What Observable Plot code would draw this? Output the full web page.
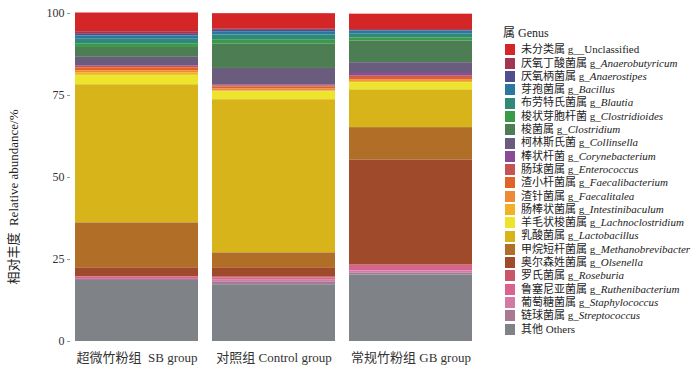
<!DOCTYPE html>
<html>
<head>
<meta charset="utf-8">
<script src="https://cdn.jsdelivr.net/npm/d3@7"></script>
<script src="https://cdn.jsdelivr.net/npm/@observablehq/plot@0.6"></script>
<style>
  body { margin: 0; background: #fff; font-family: "Liberation Serif", "Noto Sans CJK SC", serif; }
  #wrap { position: relative; width: 700px; height: 369px; overflow: hidden; }
  #chart { position: absolute; left: 0; top: 0; }
  #ylab { position: absolute; left: 12px; top: 197px; transform: translate(-50%, -50%) rotate(-90deg); white-space: pre; font-size: 13px; color: #222; }
  #legend { position: absolute; left: 503px; top: 27px; font-size: 11px; color: #222; line-height: 13.3px; }
  #legend .title { margin-bottom: 3px; font-size: 12px; }
  #legend .item { display: flex; align-items: center; height: 13.3px; white-space: nowrap; }
  #legend .sw { width: 10px; height: 11px; margin: 0 6px 0 2px; flex: none; }
  #legend i { font-style: italic; }
</style>
</head>
<body>
<div id="wrap">
  <div id="chart"></div>
  <div id="ylab"></div>
  <div id="legend"></div>
</div>
<script>
// Groups (x categories)
const groups = ["超微竹粉组  SB group", "对照组 Control group", "常规竹粉组 GB group"];

// Genera in legend order (top of legend = top of stack)
const generaCN = ["未分类属", "厌氧丁酸菌属", "厌氧柄菌属", "芽孢菌属", "布劳特氏菌属", "梭状芽胞杆菌", "梭菌属", "柯林斯氏菌", "棒状杆菌", "肠球菌属", "渣小杆菌属", "渣针菌属", "肠棒状菌属", "羊毛状梭菌属", "乳酸菌属", "甲烷短杆菌属", "奥尔森姓菌属", "罗氏菌属", "鲁塞尼亚菌属", "葡萄糖菌属", "链球菌属", "其他"];
const generaEN = ["_Unclassified", "Anaerobutyricum", "Anaerostipes", "Bacillus", "Blautia", "Clostridioides", "Clostridium", "Collinsella", "Corynebacterium", "Enterococcus", "Faecalibacterium", "Faecalitalea", "Intestinibaculum", "Lachnoclostridium", "Lactobacillus", "Methanobrevibacter", "Olsenella", "Roseburia", "Ruthenibacterium", "Staphylococcus", "Streptococcus", "Others"];

const colors = ["#d42627", "#a23550", "#4f4f8e", "#2a77a0", "#2e8a76", "#3a9a48", "#4d7e53", "#6a5c7c", "#8b4a95", "#c75253", "#e0622a", "#ec8a36", "#f0b126", "#ede52c", "#d8b41b", "#b06e27", "#9e4a2b", "#c95669", "#d8638e", "#d27aa8", "#a87990", "#7f8388"];

// Relative abundance (%) per group, in legend order
const valuesSB      = [5.7, 0.8, 0.5, 1.0, 1.5, 1.0, 3.0, 2.6, 0.2, 0.4, 0.9, 0.6, 0.8, 2.9, 42.1, 13.7, 2.65, 0.2, 0.4, 0.3, 0.3, 18.6];
const valuesControl = [4.6, 0.5, 0.4, 1.0, 1.6, 1.2, 7.4, 5.1, 0.2, 0.4, 0.6, 0.5, 0.4, 2.35, 46.7, 4.7, 2.7, 0.2, 0.7, 0.5, 0.9, 17.3];
const valuesGB      = [4.7, 0.3, 0.2, 0.9, 1.2, 0.9, 6.6, 3.3, 0.8, 0.4, 0.8, 0.4, 0.4, 2.2, 11.5, 9.9, 32.0, 0.4, 1.4, 0.6, 0.6, 20.3];

const yTicks = [0, 25, 50, 75, 100];
const yLabel = "相对丰度  Relative abundance/%";
const legendTitle = "属  Genus";

const series = [valuesSB, valuesControl, valuesGB];
const rows = [];
groups.forEach((g, gi) => {
  generaEN.forEach((gen, i) => rows.push({group: g, genus: gen, value: series[gi][i]}));
});

const chart = Plot.plot({
  width: 492,
  height: 369,
  marginLeft: 70,
  marginRight: 14,
  marginTop: 13,
  marginBottom: 28,
  style: {fontFamily: "'Liberation Serif', 'Noto Sans CJK SC', serif", fontSize: "12px", color: "#333", background: "#fff"},
  x: {domain: groups, paddingInner: 0.1, paddingOuter: 0.03, label: null},
  y: {domain: [0, 100]},
  color: {domain: generaEN, range: colors},
  marks: [
    Plot.barY(rows, Plot.stackY({
      x: "group", y: "value", fill: "genus",
      order: generaEN.slice().reverse()
    })),
    Plot.axisY({ticks: yTicks, tickSize: 3, tickPadding: 3, stroke: "#999", label: null, fontSize: 12}),
    Plot.axisX({tickSize: 0, tickPadding: 11, fontSize: 13, label: null})
  ]
});
document.getElementById("chart").appendChild(chart);
document.getElementById("ylab").textContent = yLabel;

// Legend
const leg = document.getElementById("legend");
const t = document.createElement("div");
t.className = "title";
t.textContent = legendTitle;
leg.appendChild(t);
generaEN.forEach((gen, i) => {
  const it = document.createElement("div");
  it.className = "item";
  const sw = document.createElement("span");
  sw.className = "sw";
  sw.style.background = colors[i];
  it.appendChild(sw);
  const tx = document.createElement("span");
  if (gen === "Others") {
    tx.textContent = generaCN[i] + " Others";
  } else if (gen === "_Unclassified") {
    tx.textContent = generaCN[i] + " g__Unclassified";
  } else {
    tx.innerHTML = generaCN[i] + " g_<i>" + gen + "</i>";
  }
  tx.style.whiteSpace = "pre";
  it.appendChild(tx);
  leg.appendChild(it);
});
</script>
</body>
</html>
